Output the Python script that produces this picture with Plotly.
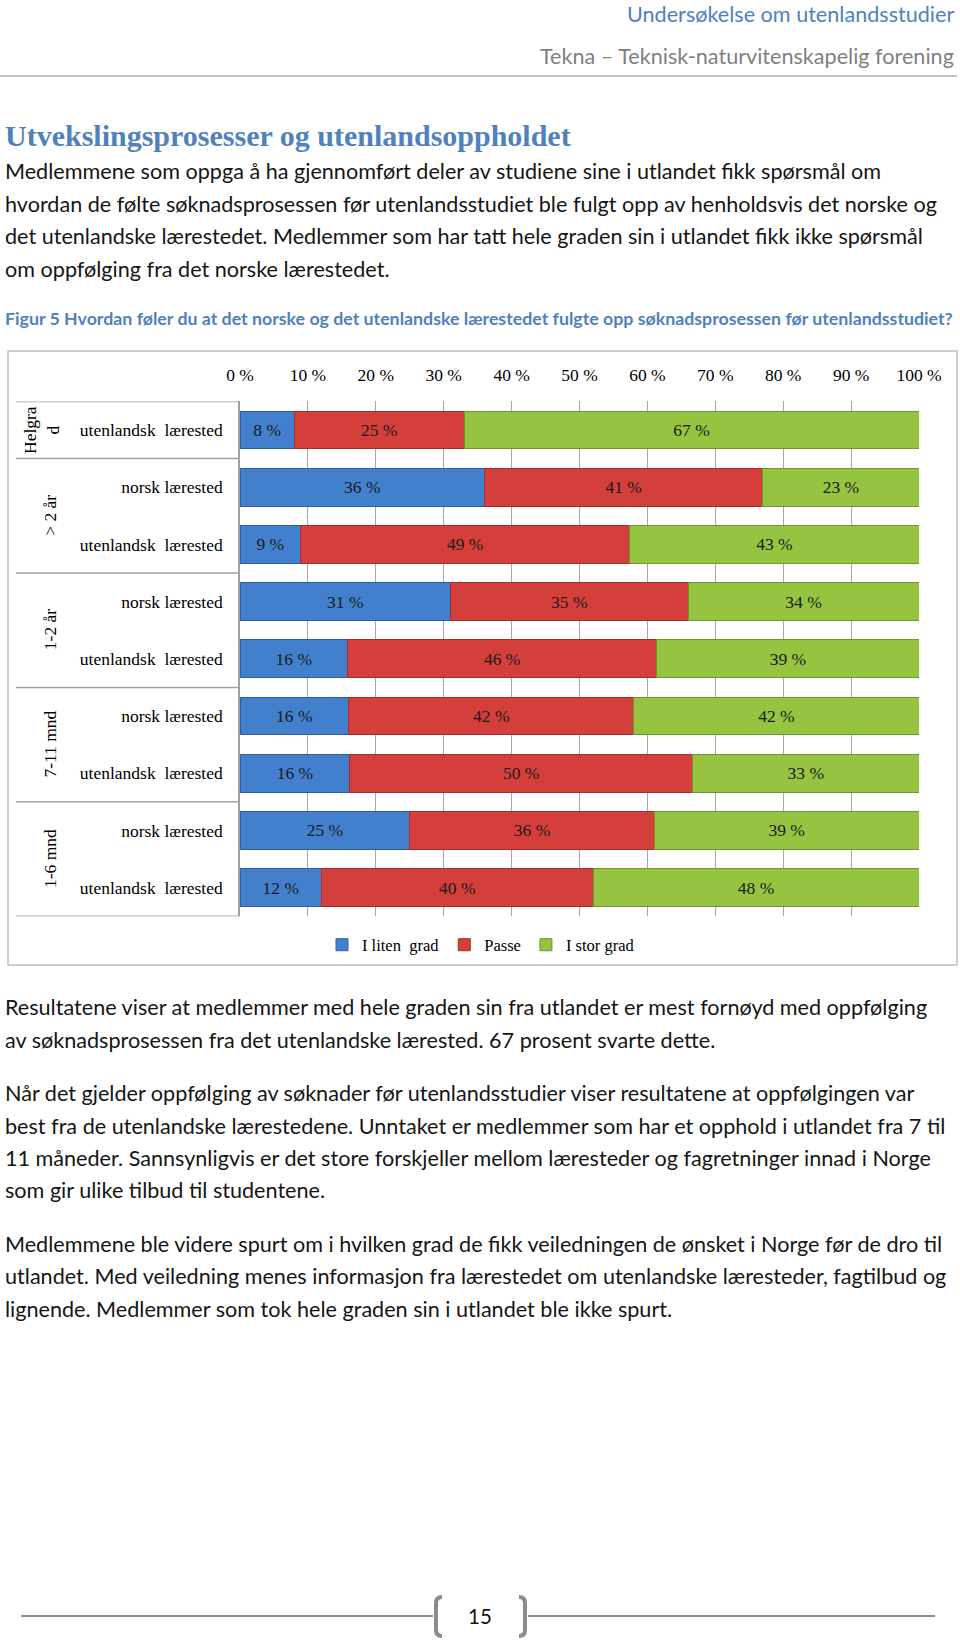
import plotly.graph_objects as go

# ---------------- data ----------------
groups = ["Helgrad", "> 2 år", "> 2 år", "1-2 år", "1-2 år",
          "7-11 mnd", "7-11 mnd", "1-6 mnd", "1-6 mnd"]
group_display = {"Helgrad": "Helgra<br>d"}
row_labels = ["utenlandsk  lærested", "norsk lærested", "utenlandsk  lærested",
              "norsk lærested", "utenlandsk  lærested", "norsk lærested",
              "utenlandsk  lærested", "norsk lærested", "utenlandsk  lærested"]
series_names = ["I liten  grad", "Passe", "I stor grad"]
liten = [8, 36, 9, 31, 16, 16, 16, 25, 12]
passe = [25, 41, 49, 35, 46, 42, 50, 36, 40]
stor = [67, 23, 43, 34, 39, 42, 33, 39, 48]
x_ticks = [0, 10, 20, 30, 40, 50, 60, 70, 80, 90, 100]

colors = ["#4280CE", "#D43F3C", "#96C340"]
edge = ["#2F5F9E", "#A52E2C", "#6F9530"]

W, H = 960, 1640


def px(x):
    return x / W


def py(y):
    return 1 - y / H


SERIF = "Liberation Serif"
SANS = "Lato"

rows = list(range(len(row_labels)))
fig = go.Figure()
for name, vals, c, e in zip(series_names, [liten, passe, stor], colors, edge):
    fig.add_trace(go.Bar(
        y=rows, x=vals, orientation="h", name=name,
        marker=dict(color=c, line=dict(color=e, width=1)),
        text=[f"{v} %" for v in vals], textposition="inside",
        insidetextanchor="middle", textangle=0, constraintext="none",
        textfont=dict(family=SERIF, size=17.5, color="#1a1a1a"),
        hovertemplate="%{text}<extra>" + name + "</extra>",
    ))

shapes = []
annotations = []

# chart frame
shapes.append(dict(type="rect", xref="paper", yref="paper",
                   x0=px(8), x1=px(957), y0=py(965), y1=py(351),
                   line=dict(color="#BFBFBF", width=1.5), layer="below"))

# group separators in the category table
uniq = []
for g in groups:
    if g not in uniq:
        uniq.append(g)
bounds = set()
for g in uniq:
    idx = [i for i, gg in enumerate(groups) if gg == g]
    bounds.add(min(idx) - 0.5)
    bounds.add(max(idx) + 0.5)
    annotations.append(dict(
        x=px(41) if "<br>" in group_display.get(g, g) else px(50),
        xref="paper", y=sum(idx) / len(idx), yref="y",
        text=group_display.get(g, g), textangle=-90, showarrow=False,
        font=dict(family=SERIF, size=17.5, color="#000000"),
        xanchor="center", yanchor="middle"))
for b in sorted(bounds):
    shapes.append(dict(type="line", xref="paper", yref="y",
                       x0=px(16), x1=px(240), y0=b, y1=b,
                       line=dict(color="#A0A0A0", width=1.5)))

# page header
shapes.append(dict(type="line", xref="paper", yref="paper",
                   x0=0, x1=px(957), y0=py(76), y1=py(76),
                   line=dict(color="#C4C4C4", width=2)))
annotations.append(dict(x=px(956), y=py(14), xref="paper", yref="paper",
                        text="Undersøkelse om utenlandsstudier", showarrow=False,
                        xanchor="right", yanchor="middle",
                        font=dict(family=SANS, size=21.6, color="#4F81BD")))
annotations.append(dict(x=px(956), y=py(56), xref="paper", yref="paper",
                        text="Tekna – Teknisk-naturvitenskapelig forening", showarrow=False,
                        xanchor="right", yanchor="middle",
                        font=dict(family=SANS, size=21.6, color="#7F7F7F")))

# title
annotations.append(dict(x=px(3), y=py(136), xref="paper", yref="paper",
                        text="<b>Utvekslingsprosesser og utenlandsoppholdet</b>",
                        showarrow=False, xanchor="left", yanchor="middle",
                        font=dict(family=SERIF, size=30, color="#4F81BD")))

body_lines = [
    (171, "Medlemmene som oppga å ha gjennomført deler av studiene sine i utlandet fikk spørsmål om"),
    (204, "hvordan de følte søknadsprosessen før utenlandsstudiet ble fulgt opp av henholdsvis det norske og"),
    (236, "det utenlandske lærestedet. Medlemmer som har tatt hele graden sin i utlandet fikk ikke spørsmål"),
    (269, "om oppfølging fra det norske lærestedet."),
    (1007, "Resultatene viser at medlemmer med hele graden sin fra utlandet er mest fornøyd med oppfølging"),
    (1040, "av søknadsprosessen fra det utenlandske lærested. 67 prosent svarte dette."),
    (1093, "Når det gjelder oppfølging av søknader før utenlandsstudier viser resultatene at oppfølgingen var"),
    (1126, "best fra de utenlandske lærestedene. Unntaket er medlemmer som har et opphold i utlandet fra 7 til"),
    (1158, "11 måneder. Sannsynligvis er det store forskjeller mellom læresteder og fagretninger innad i Norge"),
    (1190, "som gir ulike tilbud til studentene."),
    (1244, "Medlemmene ble videre spurt om i hvilken grad de fikk veiledningen de ønsket i Norge før de dro til"),
    (1276, "utlandet. Med veiledning menes informasjon fra lærestedet om utenlandske læresteder, fagtilbud og"),
    (1309, "lignende. Medlemmer som tok hele graden sin i utlandet ble ikke spurt."),
]
for yy, t in body_lines:
    annotations.append(dict(x=px(3), y=py(yy), xref="paper", yref="paper",
                            text=t, showarrow=False, xanchor="left", yanchor="middle",
                            font=dict(family=SANS, size=21.6, color="#151515")))

annotations.append(dict(
    x=px(3), y=py(318), xref="paper", yref="paper",
    text="<b>Figur 5 Hvordan føler du at det norske og det utenlandske lærestedet fulgte opp søknadsprosessen før utenlandsstudiet?</b>",
    showarrow=False, xanchor="left", yanchor="middle",
    font=dict(family=SANS, size=17.75, color="#4F81BD")))

# footer
shapes.append(dict(type="line", xref="paper", yref="paper",
                   x0=px(21), x1=px(433), y0=py(1616), y1=py(1616),
                   line=dict(color="#8C8C8C", width=2)))
shapes.append(dict(type="line", xref="paper", yref="paper",
                   x0=px(528), x1=px(935), y0=py(1616), y1=py(1616),
                   line=dict(color="#8C8C8C", width=2)))


def bracket(xs, xe, y0, y1):
    r = 6
    d = (f"M {px(xe)},{py(y0)} Q {px(xs)},{py(y0)} {px(xs)},{py(y0 + r)} "
         f"L {px(xs)},{py(y1 - r)} Q {px(xs)},{py(y1)} {px(xe)},{py(y1)}")
    return dict(type="path", xref="paper", yref="paper", path=d,
                line=dict(color="#8C8C8C", width=4))


shapes.append(bracket(436, 442, 1597, 1636))
shapes.append(bracket(525, 519, 1597, 1636))
annotations.append(dict(x=px(480), y=py(1616), xref="paper", yref="paper",
                        text="15", showarrow=False, xanchor="center", yanchor="middle",
                        font=dict(family=SANS, size=20.5, color="#111111")))

fig.update_layout(
    width=W, height=H,
    margin=dict(l=0, r=0, t=0, b=0, autoexpand=False),
    paper_bgcolor="white", plot_bgcolor="white",
    barmode="stack", barnorm="percent", bargap=0.336,
    showlegend=True,
    legend=dict(orientation="h", x=px(481), xanchor="center",
                y=py(945), yanchor="middle",
                font=dict(family=SERIF, size=16.5, color="#000000"),
                traceorder="normal", itemwidth=30,
                bgcolor="rgba(0,0,0,0)"),
    xaxis=dict(domain=[px(240), px(919)], range=[0, 100], side="top",
               tickvals=x_ticks, ticktext=[f"{v} %" for v in x_ticks],
               showgrid=True, gridcolor="#A6A6A6", gridwidth=1,
               zeroline=False, showline=False, ticks="",
               ticklabelstandoff=16, automargin=False,
               tickfont=dict(family=SERIF, size=17.5, color="#000000"),
               fixedrange=True),
    yaxis=dict(domain=[py(916.2), py(401.4)], range=[8.5, -0.5],
               tickvals=rows, ticktext=row_labels,
               showgrid=False, zeroline=False, showline=True,
               linecolor="#A0A0A0", linewidth=1.5, ticks="",
               ticklabelstandoff=12, automargin=False,
               tickfont=dict(family=SERIF, size=17.5, color="#000000"),
               fixedrange=True),
    shapes=shapes, annotations=annotations,
    font=dict(family=SERIF),
)

fig.write_html("out.html", config={"displayModeBar": False},
               post_script="document.body.style.margin='0px';")
